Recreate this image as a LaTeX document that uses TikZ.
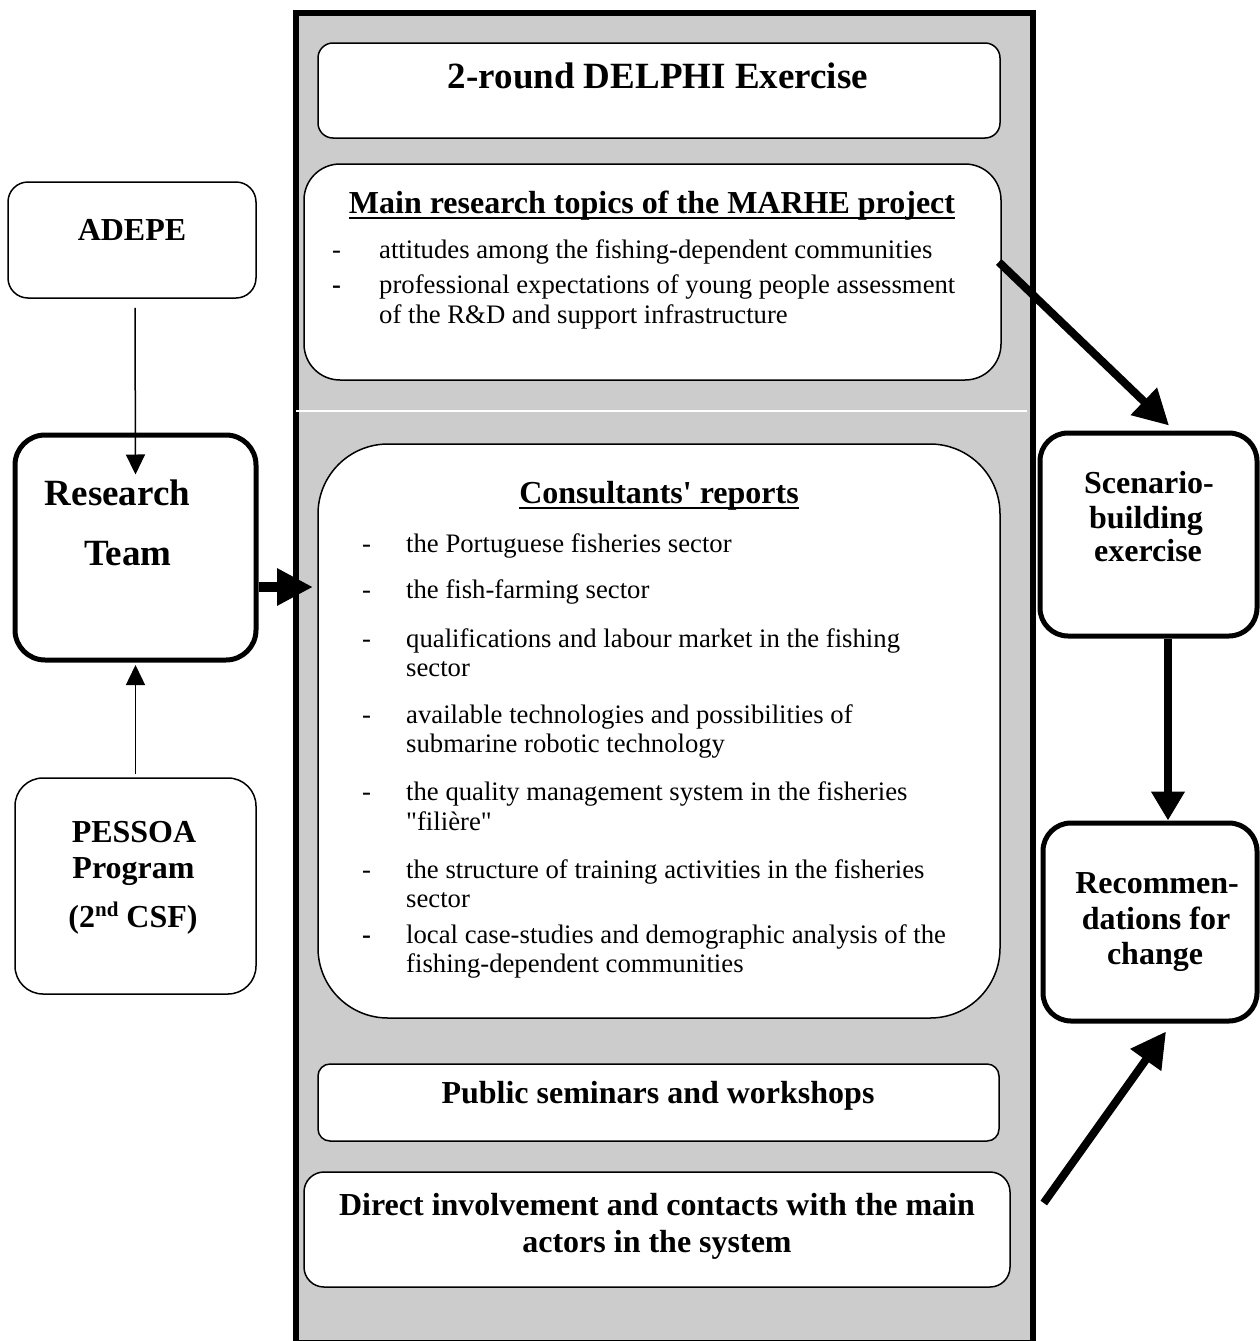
\documentclass[tikz,border=0pt]{standalone}
\usepackage{fontspec}
\setmainfont{Liberation Serif}[Ligatures=TeXOff]
\usetikzlibrary{arrows.meta}
\definecolor{panelgray}{RGB}{204,204,204}
\newcommand\fxTitle{\fontsize{37}{42}\selectfont\bfseries}
\newcommand\fxHead{\fontsize{32}{36}\selectfont\bfseries}
\newcommand\fxBody{\fontsize{26.7}{30}\selectfont}
\begin{document}
\begin{tikzpicture}[x=1pt,y=-1pt,
  thinbox/.style={draw=black, line width=1.5pt, fill=white, rounded corners=#1, inner sep=0pt},
  thickbox/.style={draw=black, line width=5pt, fill=white, rounded corners=#1, inner sep=0pt},
  ctext/.style={inner sep=0pt, anchor=base},
  ltext/.style={inner sep=0pt, anchor=base west, font=\fxBody},
  thinarrow/.style={line width=1.5pt, -{Triangle[length=20pt,width=19pt]}},
  thickarrow/.style={line width=8pt, -{Triangle[length=35pt,width=36pt]}}
]
\useasboundingbox (0,0) rectangle (1260,1341);
\fill[white] (0,0) rectangle (1260,1341);

% central panel
\node[draw=black, line width=6pt, fill=panelgray, minimum width=737pt, minimum height=1330pt, inner sep=0pt, anchor=north west] (panel) at (293,10) {};
\draw[white, line width=1.5pt] (296,411) -- (1027,411);

% boxes in the panel
\node[thinbox=15pt, minimum width=682pt, minimum height=95pt] (delphi) at (659,90.5) {};
\node[thinbox=36pt, minimum width=697pt, minimum height=216pt] (marhe) at (652.5,272) {};
\node[thinbox=70pt, minimum width=682pt, minimum height=574pt] (cons) at (659,731) {};
\node[thinbox=12pt, minimum width=681pt, minimum height=77pt] (pub) at (658.5,1102.5) {};
\node[thinbox=20pt, minimum width=706pt, minimum height=115pt] (direct) at (657,1229.5) {};

% left boxes
\node[thinbox=20pt, minimum width=248pt, minimum height=116pt] (adepe) at (132,240) {};
\node[thickbox=30pt, minimum width=241pt, minimum height=225pt] (rt) at (135.5,547.5) {};
\node[thinbox=28pt, minimum width=241pt, minimum height=216pt] (pessoa) at (135.5,886) {};

% right boxes
\node[thickbox=28pt, minimum width=217pt, minimum height=203pt] (scen) at (1148.5,534.5) {};
\node[thickbox=28pt, minimum width=214pt, minimum height=198pt] (rec) at (1150,922) {};

% texts: panel
\node[ctext, font=\fxTitle] (tDelphi) at (658,88) {2-round DELPHI Exercise};
\node[ctext, font=\fxHead] (tMarhe) at (652,213) {Main research topics of the MARHE project};
\draw[line width=2pt] ([yshift=-5pt]tMarhe.base west) -- ([yshift=-5pt]tMarhe.base east);
\node[ltext] (dm1) at (332,258) {-};
\node[ltext] (m1) at (379,258) {attitudes among the fishing-dependent communities};
\node[ltext] (dm2) at (332,293) {\bfseries -};
\node[ltext] (m2a) at (379,293) {professional expectations of young people assessment};
\node[ltext] (m2b) at (379,323) {of the R\&D and support infrastructure};

\node[ctext, font=\fxHead] (tCons) at (659,503) {Consultants' reports};
\draw[line width=2pt] ([yshift=-5pt]tCons.base west) -- ([yshift=-5pt]tCons.base east);
\node[ltext] (dc1) at (362,552) {-};
\node[ltext] (c1) at (406,552) {the Portuguese fisheries sector};
\node[ltext] (dc2) at (362,598) {-};
\node[ltext] (c2) at (406,598) {the fish-farming sector};
\node[ltext] (dc3) at (362,647) {-};
\node[ltext] (c3a) at (406,647) {qualifications and labour market in the fishing};
\node[ltext] (c3b) at (406,676) {sector};
\node[ltext] (dc4) at (362,723) {-};
\node[ltext] (c4a) at (406,723) {available technologies and possibilities of};
\node[ltext] (c4b) at (406,752) {submarine robotic technology};
\node[ltext] (dc5) at (362,800) {-};
\node[ltext] (c5a) at (406,800) {the quality management system in the fisheries};
\node[ltext] (c5b) at (406,830) {"filière"};
\node[ltext] (dc6) at (362,878) {-};
\node[ltext] (c6a) at (406,878) {the structure of training activities in the fisheries};
\node[ltext] (c6b) at (406,907) {sector};
\node[ltext] (dc7) at (362,943) {\bfseries -};
\node[ltext] (c7a) at (406,943) {local case-studies and demographic analysis of the};
\node[ltext] (c7b) at (406,972) {fishing-dependent communities};

\node[ctext, font=\fxHead] (tPub) at (658,1103) {Public seminars and workshops};
\node[ctext, font=\fxHead] (tDir1) at (657,1215) {Direct involvement and contacts with the main};
\node[ctext, font=\fxHead] (tDir2) at (657,1252) {actors in the system};

% texts: left
\node[ctext, font=\fxHead] (tAdepe) at (132,240) {ADEPE};
\node[ctext, font=\fxTitle] (tRes) at (117.5,505) {Research};
\node[ctext, font=\fxTitle] (tTeam) at (128,565) {Team};
\node[ctext, font=\fxHead] (tPes1) at (134,842) {PESSOA};
\node[ctext, font=\fxHead] (tPes2) at (133.5,878) {Program};
\node[ctext, font=\fxHead] (tPes3) at (133,927) {(2\raisebox{11pt}{\fontsize{21}{21}\selectfont nd} CSF)};

% texts: right
\node[ctext, font=\fxHead] (tSc1) at (1149,493) {Scenario-};
\node[ctext, font=\fxHead] (tSc2) at (1146,528) {building};
\node[ctext, font=\fxHead] (tSc3) at (1148,561) {exercise};
\node[ctext, font=\fxHead] (tRc1) at (1157,893) {Recommen-};
\node[ctext, font=\fxHead] (tRc2) at (1156,929) {dations for};
\node[ctext, font=\fxHead] (tRc3) at (1155,964) {change};

% connectors
\draw[thinarrow] ([xshift=3pt,yshift=-9pt]adepe.south) -- ([yshift=-42pt]rt.north);
\draw[thinarrow] ([yshift=3pt]pessoa.north) -- ([yshift=-2.5pt]rt.south);
\coordinate (rcIn) at (313,587);
\draw[line width=10pt, -{Triangle[length=36pt,width=35pt]}] (rt.east |- rcIn) -- (rcIn);
\draw[thickarrow] ([xshift=-3pt,yshift=10pt]marhe.east) -- ([xshift=20.5pt,yshift=5pt]scen.north);
\draw[line width=8pt, -{Triangle[length=29pt,width=32pt]}] ([xshift=19.5pt]scen.south) -- ([xshift=18pt]rec.north);
\draw[thickarrow] ([xshift=33pt,yshift=26.5pt]direct.east) -- ([xshift=16pt,yshift=-8pt]rec.south);
\end{tikzpicture}
\end{document}
